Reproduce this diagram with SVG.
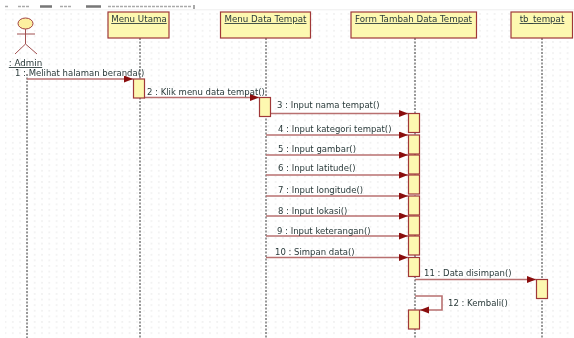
<svg xmlns="http://www.w3.org/2000/svg" width="574" height="338" viewBox="0 0 574 338">
<style>
text{font-family:"DejaVu Sans","Liberation Sans",sans-serif;font-size:8.5px;fill:#2a3a3a}
.n{fill:#fdf8b0;stroke:#a03838;stroke-width:1.2}
.l{stroke:#333;stroke-width:1;stroke-dasharray:2 1.500;fill:none}
.m{stroke:#b87070;stroke-width:1.600;fill:none;marker-end:url(#a)}
.t{text-decoration:underline;text-anchor:middle;font-size:8.700px}
</style>
<defs>
<filter id="b" x="0" y="0" width="100%" height="100%"><feGaussianBlur stdDeviation="0.35"/></filter>
<marker id="a" markerUnits="userSpaceOnUse" markerWidth="10" markerHeight="8" refX="9" refY="3.500" orient="auto"><path d="M0 0L9 3.500L0 7Z" fill="#8a0f0f"/></marker>
<pattern id="g" width="7.300" height="5.600" patternUnits="userSpaceOnUse"><rect x="5" y="2" width="1" height="1.500" fill="#e2e2e2"/></pattern>
</defs>
<rect width="574" height="338" fill="#fff"/>
<g filter="url(#b)">
<rect x="5" y="10" width="569" height="328" fill="url(#g)"/>
<g id="header-strip">
<path d="M5 9.800H574" stroke="#eee" fill="none"/>
<path d="M5 6.500H8M18 6.500H30M60 6.500H72M108 6.500H192" stroke="#aaa" stroke-width="1.500" stroke-dasharray="3 1" fill="none"/>
<path d="M40 6.500H52M86 6.500H101" stroke="#777" stroke-width="2.500" fill="none"/>
<path d="M194 5V9" stroke="#555" fill="none"/>
</g>
<g id="connectors">
<path class="l" d="M27 74V338M140 38V338M266 38V338M415 38V338M542 38V338"/>
<path class="m" d="M27 79H133"/><path class="m" d="M144 97.500H259"/>
<path class="m" d="M270 113.500H408"/><path class="m" d="M266 135H408"/><path class="m" d="M266 155H408"/><path class="m" d="M266 175H408"/><path class="m" d="M266 196H408"/><path class="m" d="M266 216H408"/><path class="m" d="M266 236H408"/><path class="m" d="M266 257.500H408"/>
<path class="m" d="M415 279.500H536"/>
<path class="m" d="M415 296H442V310H420"/>
</g>
<g id="admin" fill="none" stroke="#a05050">
<ellipse cx="25.500" cy="23.500" rx="7.500" ry="5.500" fill="#fdf0a0" stroke="#a04040"/>
<path d="M25.500 29V44M17 34H35M25.500 44L15 54M25.500 44L37 54"/>
<text x="25.500" y="66" class="t" stroke="none">: Admin</text>
</g>
<g id="menu-utama"><rect class="n" x="108" y="12" width="61" height="26"/><text class="t" x="139" y="22">Menu Utama</text></g>
<g id="menu-data-tempat"><rect class="n" x="220.500" y="12" width="90" height="26"/><text class="t" x="265.500" y="22">Menu Data Tempat</text></g>
<g id="form-tambah"><rect class="n" x="351" y="12" width="125.500" height="26"/><text class="t" x="413.500" y="22">Form Tambah Data Tempat</text></g>
<g id="tb-tempat"><rect class="n" x="511" y="12" width="61.500" height="26"/><text class="t" x="542" y="22">tb_tempat</text></g>
<g id="activations">
<rect class="n" x="133.500" y="79" width="11" height="19"/>
<rect class="n" x="259.500" y="97.500" width="11" height="19"/>
<rect class="n" x="408.500" y="113.500" width="11" height="19"/>
<rect class="n" x="408.500" y="135" width="11" height="19"/>
<rect class="n" x="408.500" y="155" width="11" height="19"/>
<rect class="n" x="408.500" y="175" width="11" height="19"/>
<rect class="n" x="408.500" y="196" width="11" height="19"/>
<rect class="n" x="408.500" y="216" width="11" height="19"/>
<rect class="n" x="408.500" y="236" width="11" height="19"/>
<rect class="n" x="408.500" y="257.500" width="11" height="19"/>
<rect class="n" x="536.500" y="279.500" width="11" height="19"/>
<rect class="n" x="408.500" y="310" width="11" height="19"/>
</g>
<g id="labels">
<text x="15" y="76">1 : Melihat halaman beranda()</text>
<text x="147" y="95">2 : Klik menu data tempat()</text>
<text x="277" y="108">3 : Input nama tempat()</text>
<text x="278" y="132">4 : Input kategori tempat()</text>
<text x="278" y="152">5 : Input gambar()</text>
<text x="278" y="171">6 : Input latitude()</text>
<text x="278" y="193">7 : Input longitude()</text>
<text x="278" y="214">8 : Input lokasi()</text>
<text x="277" y="234">9 : Input keterangan()</text>
<text x="275" y="255">10 : Simpan data()</text>
<text x="424" y="276">11 : Data disimpan()</text>
<text x="448" y="306">12 : Kembali()</text>
</g>
</g>
</svg>
